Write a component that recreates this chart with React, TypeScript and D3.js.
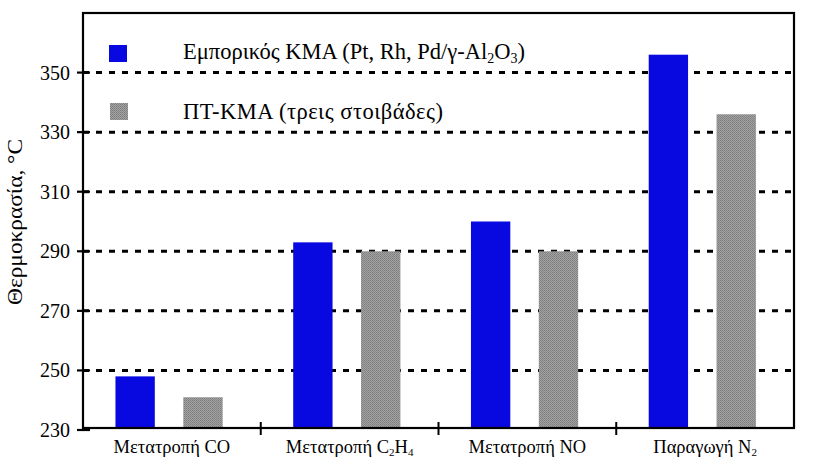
import React from "react";
import * as d3 from "d3";

const categories = ["CO", "C2H4", "NO", "N2"];
const seriesNames = ["Εμπορικός ΚΜΑ", "ΠΤ-ΚΜΑ"];
const commercialValues = [248, 293, 300, 356];
const ptValues = [241, 290, 290, 336];
const yTicks = [230, 250, 270, 290, 310, 330, 350];

const W = 816;
const H = 468;
const left = 83;
const right = 794;
const top = 13;
const bottom = 430;
const colors = ["#0808e0", "url(#halftone)"];

function CatLabel({ cat }: { cat: string }) {
  const base = cat === "N2" ? "Παραγωγή " : "Μετατροπή ";
  if (cat === "CO" || cat === "NO") return <tspan>{base + cat}</tspan>;
  if (cat === "C2H4")
    return (
      <>
        <tspan>{base}C</tspan>
        <tspan fontSize="11" dy="3">2</tspan>
        <tspan dy="-3">H</tspan>
        <tspan fontSize="11" dy="3">4</tspan>
      </>
    );
  return (
    <>
      <tspan>{base}N</tspan>
      <tspan fontSize="11" dy="3">2</tspan>
    </>
  );
}

export default function App() {
  const x0 = d3.scaleBand<string>().domain(categories).range([left, right]);
  const x1 = d3
    .scaleBand<number>()
    .domain([0, 1])
    .range([0, x0.bandwidth()])
    .paddingInner(0.42)
    .paddingOuter(0.52)
    .align(0.46);
  const y = d3.scaleLinear().domain([230, 370]).range([bottom, top]);
  const series = [commercialValues, ptValues];
  const font = "'Liberation Serif', 'DejaVu Serif', serif";

  return (
    <svg
      width={W}
      height={H}
      style={{ position: "absolute", left: 0, top: 0, background: "#fff" }}
      fontFamily={font}
    >
      <defs>
        <pattern id="halftone" width="2" height="2" patternUnits="userSpaceOnUse">
          <rect width="2" height="2" fill="#a2a2a2" />
          <rect width="1" height="1" fill="#7e7e7e" />
          <rect x="1" y="1" width="1" height="1" fill="#868686" />
        </pattern>
      </defs>
      {/* gridlines */}
      {yTicks
        .filter((t) => t > 230)
        .map((t) => (
          <line
            key={"g" + t}
            x1={left}
            x2={right}
            y1={y(t)}
            y2={y(t)}
            stroke="#000"
            strokeWidth={3}
            strokeDasharray="6,7"
          />
        ))}
      {/* bars */}
      {categories.map((c, i) =>
        series.map((s, k) => (
          <rect
            key={c + k}
            x={(x0(c) as number) + (x1(k) as number)}
            y={y(s[i])}
            width={x1.bandwidth()}
            height={bottom - 2 - y(s[i])}
            fill={colors[k]}
          />
        ))
      )}
      {/* frame */}
      <rect
        x={left}
        y={top}
        width={right - left}
        height={bottom - 2 - top}
        fill="none"
        stroke="#000"
        strokeWidth={2.2}
      />
      {/* y ticks */}
      {yTicks.map((t) => (
        <g key={"t" + t}>
          <line x1={left - 6} x2={left + 7} y1={y(t)} y2={y(t)} stroke="#000" strokeWidth={2.2} />
          <text
            x={70}
            y={y(t)}
            textAnchor="end"
            dominantBaseline="central"
            fontSize={20}
          >
            {t}
          </text>
        </g>
      ))}
      {/* x ticks */}
      {categories.slice(1).map((c) => (
        <line
          key={"xt" + c}
          x1={x0(c)}
          x2={x0(c)}
          y1={bottom - 8}
          y2={bottom + 5}
          stroke="#000"
          strokeWidth={2}
        />
      ))}
      {/* x labels */}
      {categories.map((c) => (
        <text
          key={"xl" + c}
          x={(x0(c) as number) + x0.bandwidth() / 2}
          y={453}
          textAnchor="middle"
          fontSize={18.5}
        >
          <CatLabel cat={c} />
        </text>
      ))}
      {/* y title */}
      <text
        transform={`translate(22, 222) rotate(-90)`}
        textAnchor="middle"
        fontSize={21}
        textLength={166}
        lengthAdjust="spacingAndGlyphs"
      >
        Θερμοκρασία, °C
      </text>
      {/* legend */}
      <rect x={109} y={45} width={18} height={17} fill={colors[0]} />
      <rect x={110} y={103} width={18} height={17} fill={colors[1]} />
      <text x={183} y={59} fontSize={22.5}>
        {seriesNames[0]} (Pt, Rh, Pd/γ-Al
        <tspan fontSize={14} dy={4}>2</tspan>
        <tspan dy={-4}>O</tspan>
        <tspan fontSize={14} dy={4}>3</tspan>
        <tspan dy={-4}>)</tspan>
      </text>
      <text x={183} y={119} fontSize={22.5} textLength={260} lengthAdjust="spacing">
        {seriesNames[1]} (τρεις στοιβάδες)
      </text>
    </svg>
  );
}
